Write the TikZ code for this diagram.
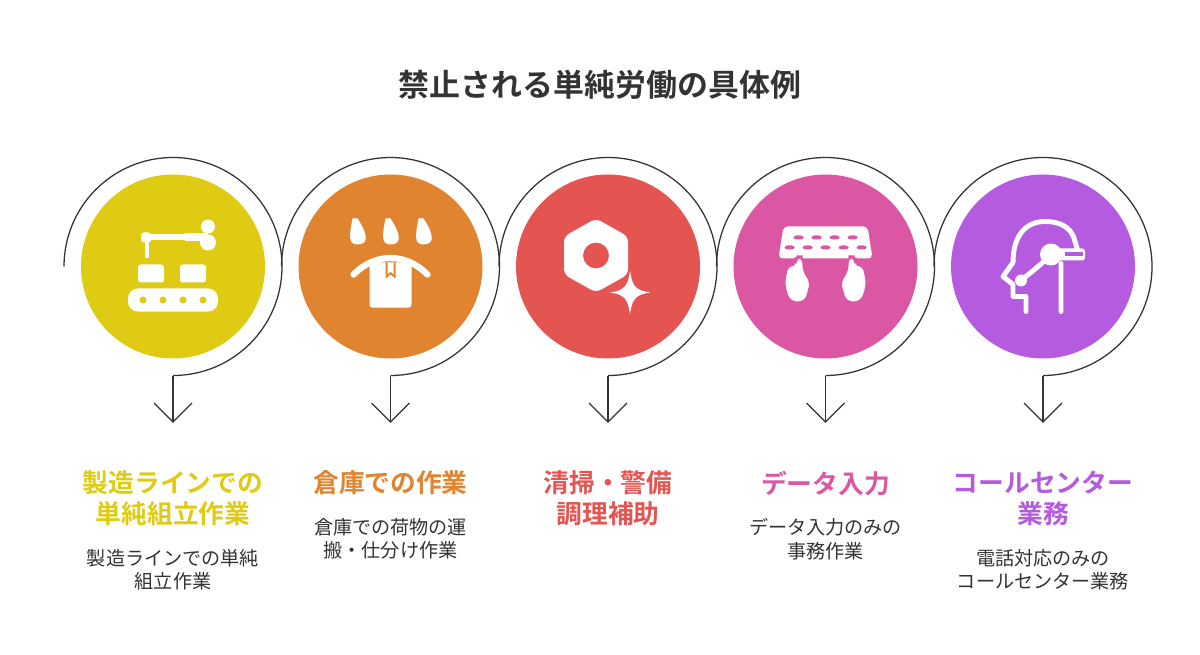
\documentclass[tikz,border=0pt]{standalone}
\usepackage{fontspec}
\setmainfont{Noto Sans CJK JP}
\newfontfamily\cjkb{Noto Sans CJK JP Bold}
\definecolor{cy}{HTML}{DFCB14}
\definecolor{co}{HTML}{E08430}
\definecolor{cr}{HTML}{E45552}
\definecolor{cp}{HTML}{DC57A3}
\definecolor{cv}{HTML}{B55BE0}
\definecolor{ink}{HTML}{333333}
\begin{document}
\begin{tikzpicture}[x=0.025cm,y=-0.025cm,
  ring/.style={draw=ink,line width=0.9pt},
  arr/.style={draw=ink,line width=0.9pt},
  head/.style={font=\cjkb\fontsize{18.3}{22}\selectfont,align=center,anchor=north},
  body/.style={font=\fontsize{13.6}{17}\selectfont,text=ink,align=center,anchor=north},
  ic/.style={fill=white,draw=none}]
\useasboundingbox (0,0) rectangle (1200,655);
\node[font=\cjkb\fontsize{22}{26}\selectfont,text=ink] (title) at (600,85) {禁止される単純労働の具体例};
\foreach \i/\cx/\c in {1/173/cy,2/390.5/co,3/608/cr,4/825.5/cp,5/1043/cv}{
  \fill[\c] (\cx,266.5) circle (92);
  \draw[ring] (\cx-109,266.5) arc (180:450:109) coordinate (b\i);
  \coordinate (t\i) at (\cx,422);
  \draw[arr] (b\i) -- (t\i);
  \draw[arr] (\cx-19,403) -- (t\i) -- (\cx+19,403);
}
% icon 1: conveyor
\begin{scope}[shift={(173,266.5)}]
  \fill[ic,rounded corners=7] (-45,22) rectangle (45,45);
  \foreach \x in {-30,-10,10,30} \fill[cy] (\x,33.5) circle (3.5);
  \fill[ic,rounded corners=2] (-35,-2) rectangle (-9,16);
  \fill[ic,rounded corners=2] (7,-2) rectangle (33,16);
  \fill[ic,rounded corners=2] (-32,-34) rectangle (-22,-24);
  \fill[ic] (-28,-26) rectangle (-24,-8);
  \fill[ic] (-24,-32) rectangle (20,-26);
  \fill[ic] (12,-33) rectangle (35,-25);
  \fill[ic] (35,-40) circle (7);
  \fill[ic] (35,-24) circle (8);
\end{scope}
% icon 2: box under drops
\begin{scope}[shift={(390.5,266.5)}]
  \foreach \x in {-33,0,33}{\fill[ic] (\x,-48) .. controls (\x+12,-30) and (\x+10,-22) .. (\x,-22) .. controls (\x-10,-22) and (\x-8,-32) .. (\x-5,-48) -- cycle;}
  \draw[white,line width=4.5pt,line cap=round] (-37,8) .. controls (-15,-14) and (15,-14) .. (37,8);
  \fill[ic,rounded corners=2] (-21,-4) rectangle (21,41);
  \fill[co] (-5,-4) -- (-5,12) -- (0,8) -- (5,12) -- (5,-4) -- cycle;
  \fill[ic] (-3,-4) -- (-3,8) -- (0,5) -- (3,8) -- (3,-4) -- cycle;
\end{scope}
% icon 3: nut and sparkle
\begin{scope}[shift={(608,266.5)}]
  \fill[ic,even odd rule,rounded corners=4] (-12,-48) -- (20,-30) -- (20,8) -- (-12,26) -- (-44,8) -- (-44,-30) -- cycle (-12,-11) circle (13);
  \fill[ic] (22,4) .. controls (24,20) and (28,24) .. (42,26) .. controls (28,28) and (24,32) .. (22,48) .. controls (20,32) and (16,28) .. (2,26) .. controls (16,24) and (20,20) .. (22,4) -- cycle;
\end{scope}
% icon 4: keyboard with hands
\begin{scope}[shift={(825.5,266.5)}]
  \fill[ic,rounded corners=3] (-42,-40) -- (42,-40) -- (47,-8) -- (-47,-8) -- cycle;
  \foreach \x in {-27,-9,9,27} \fill[cp,rounded corners=2] (\x-5,-31) rectangle (\x+5,-27);
  \foreach \x in {-36,-18,0,18,36} \fill[cp,rounded corners=2] (\x-5,-21) rectangle (\x+5,-17);
  \foreach \s in {-1,1}{
    \fill[ic,draw=cp,line width=1.5pt,rounded corners=5] (\s*38,-2) -- (\s*30,-2) -- (\s*30,-10) -- (\s*22,-10) -- (\s*22,6) -- (\s*14,14) -- (\s*16,22) -- (\s*20,36) -- (\s*36,36) -- (\s*42,18) -- cycle;
  }
\end{scope}
% icon 5: head with headset
\begin{scope}[shift={(1043,266.5)}]
  \draw[white,line width=3.5pt,line cap=round,line join=round] (-17,45) -- (-17,30) -- (-30,30) -- (-30,18) -- (-40,10) -- (-30,-4) .. controls (-30,-30) and (-18,-45) .. (2,-45) .. controls (22,-45) and (30,-35) .. (32,-25) -- (35,-15) (18,-3) -- (18,45);
  \fill[ic,rounded corners=2] (12,-18) rectangle (42,-6);
  \fill[cv] (22,-14) rectangle (40,-10);
  \fill[ic] (8,-12) circle (11);
  \draw[white,line width=3.5pt] (2,-6) -- (-12,6) -- (-20,12);
  \fill[ic] (-22,14) circle (6);
\end{scope}
% labels
\node[head,text=cy] (h1) at (173,466) {製造ラインでの\\単純組立作業};
\node[body] (d1) at (173,544) {製造ラインでの単純\\組立作業};
\node[head,text=co] (h2) at (390.5,466) {倉庫での作業};
\node[body] (d2) at (390.5,513) {倉庫での荷物の運\\搬・仕分け作業};
\node[head,text=cr] (h3) at (608,466) {清掃・警備\\調理補助};
\node[head,text=cp] (h4) at (825.5,466) {データ入力};
\node[body] (d4) at (825.5,513) {データ入力のみの\\事務作業};
\node[head,text=cv] (h5) at (1043,466) {コールセンター\\業務};
\node[body] (d5) at (1043,544) {電話対応のみの\\コールセンター業務};
\end{tikzpicture}
\end{document}
